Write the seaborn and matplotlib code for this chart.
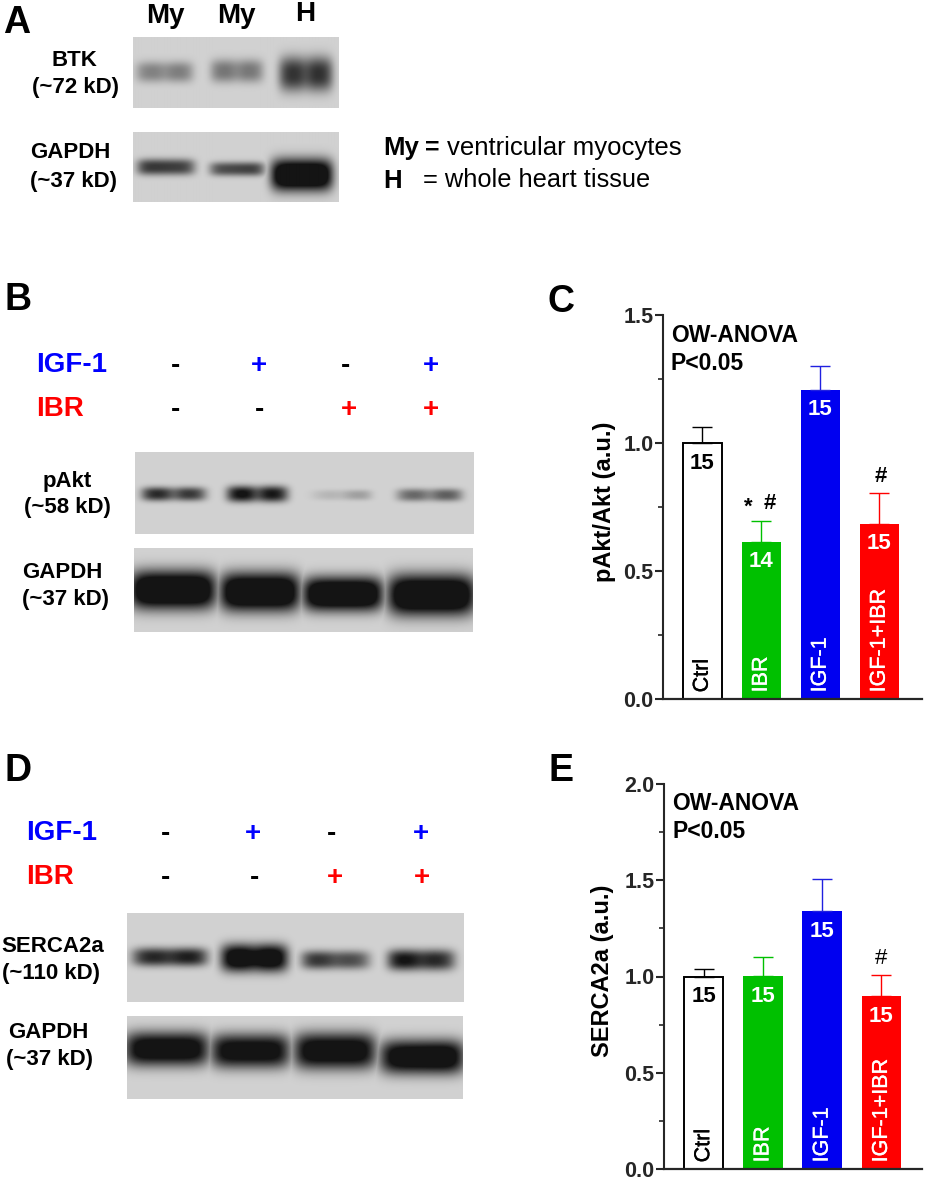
import numpy as np
import pandas as pd
import seaborn as sns
import matplotlib.pyplot as plt
import matplotlib.patheffects as pe

W, H = 925, 1180

groups = ['Ctrl', 'IBR', 'IGF-1', 'IGF-1+IBR']
bar_colors = ['#ffffff', '#00c000', '#0000f0', '#ff0000']
err_colors = ['#000000', '#00c000', '#2020e0', '#ff0000']
text_colors = ['black', 'white', 'white', 'white']

pakt_values = [1.0, 0.615, 1.207, 0.685]
pakt_errors = [0.061, 0.081, 0.091, 0.121]
pakt_n = ['15', '14', '15', '15']

serca_values = [1.0, 1.003, 1.34, 0.897]
serca_errors = [0.039, 0.098, 0.167, 0.111]
serca_n = ['15', '15', '15', '15']

# band darkness per lane, (left half, right half)
btk_bands = [(0.42, 0.46), (0.5, 0.48), (0.85, 0.88)]
gapdh_a_bands = [(0.85, 0.75), (0.68, 0.8), (1.4, 1.4)]
pakt_bands = [(0.95, 0.8), (1.1, 1.0), (0.08, 0.32), (0.55, 0.65)]
gapdh_b_bands = [(1.4, 1.4), (1.4, 1.4), (1.4, 1.4), (1.4, 1.4)]
serca_bands = [(0.9, 1.0), (1.3, 1.3), (0.9, 0.65), (1.1, 0.85)]
gapdh_d_bands = [(1.2, 1.2), (1.15, 1.15), (1.2, 1.2), (1.2, 1.3)]


def add_axes(x0, y0, x1, y1):
    # pixel box, y counted from the top
    return fig.add_axes([x0 / W, 1 - y1 / H, (x1 - x0) / W, (y1 - y0) / H])


def label(x, y, s, size=16, color='black', weight='bold', ha='center', **kw):
    fig.text(x / W, 1 - y / H, s, fontsize=size, color=color, fontweight=weight,
             ha=ha, va='center', **kw)


def draw_blot(box, lanes, bands, bg=0.82, waist=0.0):
    x0, y0, x1, y1 = box
    xx, yy = np.meshgrid(np.arange(x0, x1) + 0.5, np.arange(y0, y1) + 0.5)
    dark = np.zeros(xx.shape)
    for (lx0, lx1, yc, hh), (left, right) in zip(lanes, bands):
        half = (lx1 - lx0) / 2
        u = (xx - (lx0 + lx1) / 2) / half
        v = (yy - yc) / hh
        # rounded band ends, optional thin waist in the middle
        shape = np.exp(-np.log(2) * (np.abs(u) ** 6 + np.abs(v) ** 2.6))
        t = np.clip((u + 1) / 2, 0, 1)
        strength = (left + (right - left) * t) * (1 - waist * np.exp(-(u / 0.3) ** 2))
        dark = np.maximum(dark, shape * strength)
    img = bg - (bg - 0.08) * np.clip(dark, 0, 1)
    ax = add_axes(x0, y0, x1, y1)
    ax.imshow(img, cmap='gray', vmin=0, vmax=1, aspect='auto', interpolation='bilinear')
    ax.axis('off')


def draw_bars(box, ylim, xlim, values, errors, n_labels, ylabel_text, ylabel_xy, stat_xy):
    ax = add_axes(*box)
    df = pd.DataFrame({'group': groups, 'value': values})
    sns.barplot(data=df, x='group', y='value', hue='group', hue_order=groups,
                palette=bar_colors, saturation=1, width=0.667, errorbar=None,
                legend=False, linewidth=0, ax=ax)
    ctrl = ax.patches[0]
    ctrl.set_edgecolor('black')
    ctrl.set_linewidth(1.4)
    for i, (v, e) in enumerate(zip(values, errors)):
        ax.errorbar(i, v, yerr=[[0], [e]], color=err_colors[i], elinewidth=1.0,
                    capsize=7.2, capthick=1.0, zorder=1)
        ax.annotate(n_labels[i], xy=(i, v), xytext=(0, -14.5), textcoords='offset points',
                    ha='center', va='center', fontsize=16, fontweight='bold',
                    color=text_colors[i])
        ax.annotate(groups[i], xy=(i, 0), xytext=(0, 5), textcoords='offset points',
                    ha='center', va='bottom', rotation=90, fontsize=15.5,
                    color=text_colors[i],
                    path_effects=[pe.withStroke(linewidth=0.25, foreground=text_colors[i])])
    ax.set_xlim(*xlim)
    ax.set_ylim(*ylim)
    ax.set_xticks([])
    ax.set_xlabel('')
    ax.set_ylabel('')
    major = np.arange(0, ylim[1] + 0.01, 0.5)
    ax.set_yticks(major)
    ax.set_yticklabels([f'{m:.1f}' for m in major], fontsize=15.5, fontweight='bold')
    minor = [m + 0.25 for m in major[:-1]]
    ax.set_yticks(minor, minor=True)
    ax.tick_params(axis='y', which='major', left=True, length=6, width=1.5, pad=1)
    ax.tick_params(axis='y', which='minor', left=True, length=3.5, width=1.2)
    sns.despine(ax=ax)
    ax.spines['left'].set_linewidth(1.5)
    ax.spines['bottom'].set_linewidth(1.6)
    ax.patch.set_alpha(0)
    label(ylabel_xy[0], ylabel_xy[1], ylabel_text, size=17, rotation=90)
    label(stat_xy[0], stat_xy[1], 'OW-ANOVA', size=16.5, ha='left')
    label(stat_xy[0], stat_xy[1] + 28, 'P<0.05', size=16.5, ha='left')


def sign_rows(label_x, rows_y, xs, igf, ibr):
    label(label_x, rows_y[0], 'IGF-1', size=20, color='#0000ff', ha='left')
    label(label_x, rows_y[1], 'IBR', size=20, color='#ff0000', ha='left')
    for x, s in zip(xs[0], igf):
        label(x, rows_y[0] + 1, s, size=20, color='#0000ff' if s == '+' else 'black')
    for x, s in zip(xs[1], ibr):
        label(x, rows_y[1] + 1, s, size=20, color='#ff0000' if s == '+' else 'black')


sns.set_theme(style='white')
plt.rcParams['font.family'] = ['Liberation Sans', 'DejaVu Sans']

fig = plt.figure(figsize=(W / 100, H / 100), dpi=100)

# panel A
draw_blot((133, 37, 338, 108),
          [(138, 191, 72, 9), (212, 261, 71, 10), (280, 330, 74, 15)], btk_bands, waist=0.18)
draw_blot((133, 132, 338, 202),
          [(139, 193, 167, 7), (211, 262, 169, 6), (272, 330, 175, 14)], gapdh_a_bands)
label(17, 23, 'A', size=27)
label(165, 16, 'My', size=20)
label(236, 16, 'My', size=20)
label(305, 14, 'H', size=20)
label(74, 60, 'BTK')
label(75, 88, '(~72 kD)')
label(70, 153, 'GAPDH')
label(73, 182, '(~37 kD)')
label(383, 148, 'My', size=18.5, ha='left')
label(425, 148, '=', size=18, ha='left')
label(447, 148, 'ventricular myocytes', size=18.5, weight='normal', ha='left')
label(383, 181, 'H', size=18.5, ha='left')
label(423, 180, '= whole heart tissue', size=18.3, weight='normal', ha='left')

# panel B
label(18, 300, 'B', size=27)
sign_rows(36, (365, 409), ((175, 259, 345, 431), (175, 259, 349, 431)),
          ['-', '+', '-', '+'], ['-', '-', '+', '+'])
draw_blot((135, 452, 474, 534),
          [(144, 204, 494, 6), (229, 286, 494, 7), (311, 369, 495, 4.5), (399, 460, 495, 5.5)],
          pakt_bands, waist=0.3)
draw_blot((134, 548, 473, 632),
          [(132, 214, 590, 17), (222, 298, 592, 17), (305, 381, 594, 15), (390, 473, 595, 18)],
          gapdh_b_bands)
label(67, 481, 'pAkt')
label(67, 507, '(~58 kD)')
label(62, 573, 'GAPDH')
label(65, 599, '(~37 kD)')

# panel C
label(561, 302, 'C', size=27)
draw_bars((663.3, 314.7, 921.7, 699.3), (0, 1.5), (-0.66, 3.72),
          pakt_values, pakt_errors, pakt_n, 'pAkt/Akt (a.u.)', (605, 502), (671, 335))
label(748, 507, '*', size=16)
label(770, 504, '#', size=16)
label(881, 477, '#', size=16)

# panel D
label(18, 771, 'D', size=27)
sign_rows(26, (833, 877), ((166, 253, 331, 421), (166, 254, 335, 422)),
          ['-', '+', '-', '+'], ['-', '-', '+', '+'])
draw_blot((127, 913, 464, 1002),
          [(135, 205, 957, 8), (223, 286, 958, 12), (304, 368, 960, 8), (390, 453, 960, 9)],
          serca_bands, waist=0.12)
draw_blot((127, 1016, 463, 1099),
          [(127, 207, 1049, 15), (213, 288, 1051, 15), (296, 374, 1051, 16), (382, 462, 1057, 15)],
          gapdh_d_bands)
label(53, 946, 'SERCA2a')
label(51, 973, '(~110 kD)')
label(48, 1033, 'GAPDH')
label(49, 1059, '(~37 kD)')

# panel E
label(561, 771, 'E', size=27)
draw_bars((664, 783.7, 921.7, 1169.3), (0, 2.0), (-0.67, 3.68),
          serca_values, serca_errors, serca_n, 'SERCA2a (a.u.)', (602, 971), (672, 804))
label(881, 958, '#', size=16, weight='normal')

fig.savefig('out.png', dpi=100)
